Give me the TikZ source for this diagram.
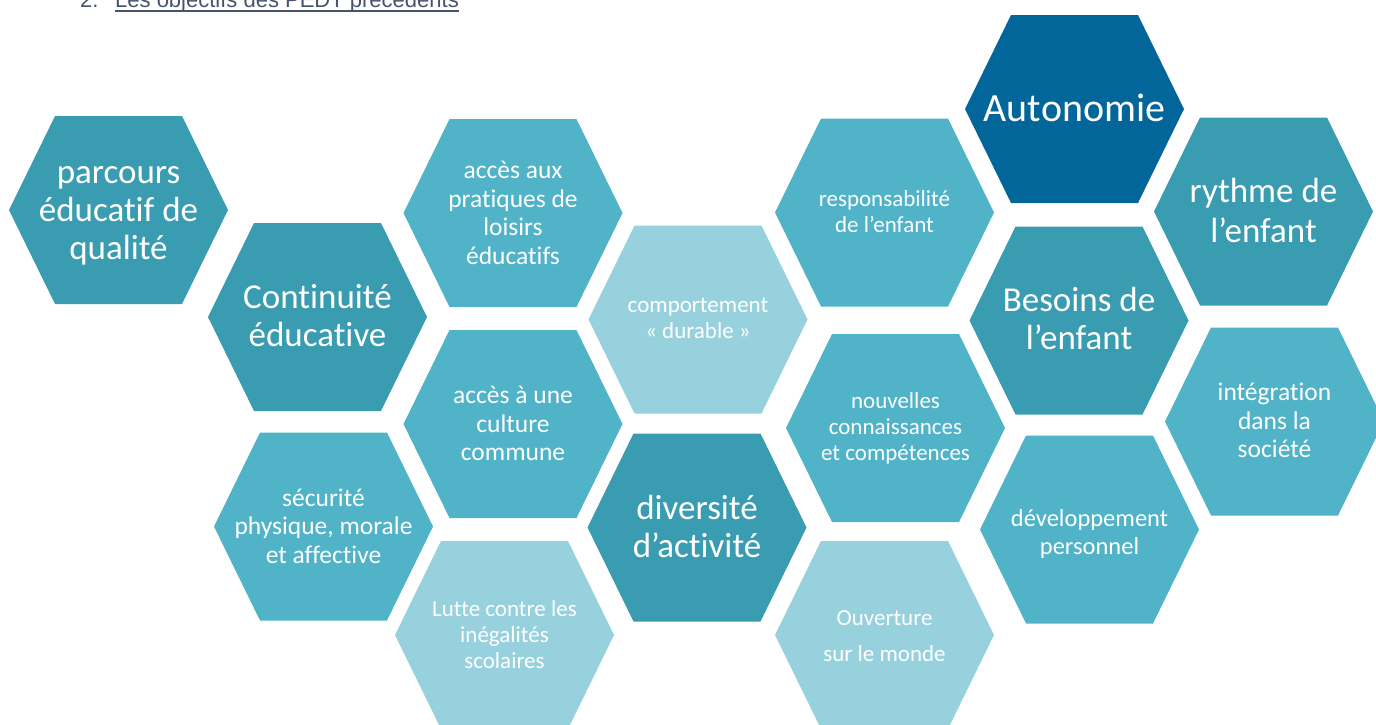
\documentclass[tikz,border=0pt]{standalone}
\usepackage{fontspec}
\setmainfont{Carlito}[Ligatures={NoCommon}]
\newfontfamily\hdfont{Liberation Sans}
\definecolor{tealD}{HTML}{3A9CB1}
\definecolor{tealM}{HTML}{50B3C8}
\definecolor{tealL}{HTML}{97D1DD}
\definecolor{navyA}{HTML}{03669A}
\definecolor{hdcol}{HTML}{44546A}
\begin{document}
\begin{tikzpicture}[x=1pt,y=-1pt,
  hexa/.pic={\fill[pic actions] (-109.5,0) -- (-63.5,-94) -- (63.5,-94) -- (109.5,0) -- (63.5,94) -- (-63.5,94) -- cycle;},
  lbl/.style={text=white,align=center,inner sep=0pt},
  bigtxt/.style={lbl,font=\fontsize{35}{38}\selectfont},
  midtxt/.style={lbl,font=\fontsize{25.5}{28.5}\selectfont},
  smalltxt/.style={lbl,font=\fontsize{23}{26}\selectfont},
  hdtxt/.style={anchor=base west,inner sep=0pt,text=hdcol,font=\hdfont\fontsize{22}{26}\selectfont}]
\useasboundingbox (0,0) rectangle (1376,724);
% header
\node[hdtxt] (num) at (80,7) {2.};
\node[hdtxt] (title) at (115,7) {Les objectifs des PEDT précédents};
\draw[hdcol,line width=1.8pt] ([yshift=0.5pt]title.south west) -- ([yshift=0.5pt]title.south east);
% hexagons
\pic[fill=tealD] at (118.5,210) {hexa};
\node[bigtxt] (parcours) at (118.5,216) {parcours\\éducatif de\\qualité};
\pic[fill=tealD] at (317.5,317) {hexa};
\node[bigtxt] (continuite) at (317.5,316) {Continuité\\éducative};
\pic[fill=tealM] at (513,213) {hexa};
\node[midtxt] (acces1) at (513,213) {accès aux\\pratiques de\\loisirs\\éducatifs};
\pic[fill=tealM] at (513,424) {hexa};
\node[midtxt] (acces2) at (513,423.5) {accès à une\\culture\\commune};
\pic[fill=tealM] at (323.5,526.5) {hexa};
\node[midtxt] (securite) at (323.5,526) {sécurité\\physique, morale\\et affective};
\pic[fill=tealL] at (504.5,635) {hexa};
\node[smalltxt] (lutte) at (504.5,634.5) {Lutte contre les\\inégalités\\scolaires};
\pic[fill=tealL] at (698,319.5) {hexa};
\node[smalltxt] (comport) at (698,318) {comportement\\« durable »};
\pic[fill=tealD] at (697,527.5) {hexa};
\node[bigtxt] (diversite) at (697,526.5) {diversité\\d’activité};
\pic[fill=tealM] at (884.5,212.5) {hexa};
\node[smalltxt] (respons) at (884.5,212) {responsabilité\\de l’enfant};
\pic[fill=tealM] at (895.5,428) {hexa};
\node[smalltxt] (nouvelles) at (895.5,428) {nouvelles\\connaissances\\et compétences};
\pic[fill=tealL] at (884.5,635) {hexa};
\node[lbl,font=\fontsize{23}{36}\selectfont] (ouverture) at (884.5,636) {Ouverture\\sur le monde};
\pic[fill=navyA] at (1074.5,109) {hexa};
\node[lbl,font=\fontsize{40}{44}\selectfont] (autonomie) at (1074.5,108) {Autonomie};
\pic[fill=tealD] at (1079,320.5) {hexa};
\node[bigtxt] (besoins) at (1079,318) {Besoins de\\l’enfant};
\pic[fill=tealD] at (1263.5,211.5) {hexa};
\node[lbl,font=\fontsize{35}{40}\selectfont] (rythme) at (1263.5,210) {rythme de\\l’enfant};
\pic[fill=tealM] at (1274.5,421.5) {hexa};
\node[midtxt] (integration) at (1274.5,420.5) {intégration\\dans la\\société};
\pic[fill=tealM] at (1089.5,529.5) {hexa};
\node[lbl,font=\fontsize{24.5}{28}\selectfont] (developpement) at (1089.5,534) {développement\\personnel};
\end{tikzpicture}
\end{document}
